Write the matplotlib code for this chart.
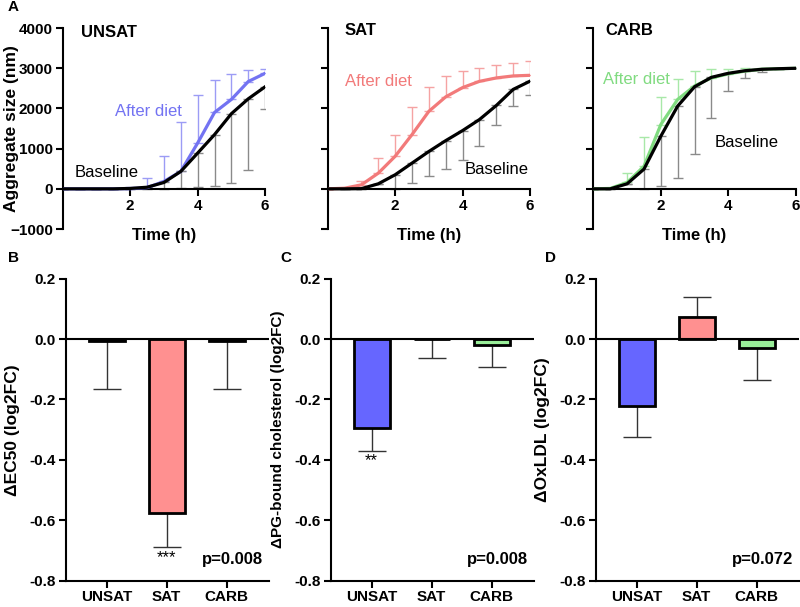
from matplotlib import pyplot as plt
import numpy as np

plt.rcParams['font.family'] = ['Liberation Sans', 'DejaVu Sans']

# time points (h)
t = [0, 0.5, 1, 1.5, 2, 2.5, 3, 3.5, 4, 4.5, 5, 5.5, 6]

# aggregate size (nm), after diet / baseline, with one-sided SD
unsat_after = [0, 0, 0, 0, 5, 30, 183, 433, 1140, 1900, 2225, 2670, 2875]
unsat_after_err = [0, 0, 0, 0, 30, 237, 642, 1227, 1200, 810, 635, 280, 100]
unsat_base = [0, 0, 0, 0, 10, 40, 158, 433, 890, 1350, 1870, 2240, 2540]
unsat_base_err = [0, 0, 0, 0, 10, 40, 158, 413, 850, 1270, 1730, 1780, 565]

sat_after = [0, 15, 100, 390, 810, 1350, 1930, 2290, 2520, 2675, 2760, 2810, 2825]
sat_after_err = [0, 0, 100, 380, 520, 690, 600, 520, 420, 335, 320, 330, 345]
sat_base = [0, 0, 5, 125, 350, 640, 930, 1200, 1450, 1725, 2075, 2475, 2680]
sat_base_err = [0, 0, 0, 0, 350, 490, 620, 710, 725, 650, 485, 405, 340]

carb_after = [0, 10, 160, 560, 1600, 2225, 2560, 2760, 2860, 2930, 2975, 2990, 3000]
carb_after_err = [0, 0, 230, 730, 680, 515, 370, 215, 130, 80, 30, 10, 5]
carb_base = [0, 0, 125, 490, 1310, 2060, 2540, 2775, 2875, 2940, 2975, 2990, 3000]
carb_base_err = [0, 0, 0, 490, 1235, 1793, 1665, 1000, 450, 190, 65, 20, 5]

# bar panels (log2FC), one-sided SD
groups = ['UNSAT', 'SAT', 'CARB']
ec50 = [-0.005, -0.575, -0.005]
ec50_err = [0.16, 0.115, 0.16]
pg_chol = [-0.296, 0.0, -0.018]
pg_chol_err = [0.074, 0.064, 0.075]
oxldl = [-0.22, 0.074, -0.029]
oxldl_err = [0.105, 0.066, 0.105]

line_cols = ['#7373F2', '#F27A7A', '#80DB80']
err_cols = ['#9C9CF5', '#F5A3A3', '#A8E8A8']
bar_cols = ['#6666FF', '#FF9090', '#99EE99']

fig = plt.figure(figsize=(8, 6.07), dpi=100)

top = [
    ('UNSAT', unsat_after, unsat_after_err, unsat_base, unsat_base_err,
     0.0784, (0.55, 3900), (1.55, 1930), (0.35, 410)),
    ('SAT', sat_after, sat_after_err, sat_base, sat_base_err,
     0.4096, (0.5, 3950), (0.5, 2660), (4.05, 475)),
    ('CARB', carb_after, carb_after_err, carb_base, carb_base_err,
     0.7417, (0.35, 3950), (0.28, 2725), (3.6, 1160)),
]

for i, (name, ya, ea, yb, eb, left, tpos, apos, bpos) in enumerate(top):
    ax = fig.add_axes([left, 0.6227, 0.253, 0.331])
    ax.errorbar(t, ya, yerr=[np.zeros(len(ea)), ea], fmt='none', ecolor=err_cols[i],
                elinewidth=1, capsize=3.5, capthick=1, zorder=1)
    ax.errorbar(t, yb, yerr=[eb, np.zeros(len(eb))], fmt='none', ecolor='#8a8a8a',
                elinewidth=1, capsize=3.5, capthick=1, zorder=1)
    ax.plot(t, ya, color=line_cols[i], lw=2.3, zorder=3)
    ax.plot(t, yb, color='black', lw=2.3, zorder=4)
    ax.set_xlim(0, 6)
    ax.set_ylim(-1000, 4000)
    ax.spines['top'].set_visible(False)
    ax.spines['right'].set_visible(False)
    ax.spines['bottom'].set_position(('data', 0))
    ax.spines['left'].set_linewidth(1.5)
    ax.spines['bottom'].set_linewidth(1.5)
    ax.set_xticks([2, 4, 6])
    ax.set_yticks([-1000, 0, 1000, 2000, 3000, 4000])
    ax.tick_params(width=1.5, length=5, labelsize=11, pad=2)
    for lb in ax.get_xticklabels() + ax.get_yticklabels():
        lb.set_fontweight('bold')
    if i > 0:
        ax.set_yticklabels([])
    else:
        ax.set_ylabel('Aggregate size (nm)', fontsize=12.5, fontweight='bold')
        ax.yaxis.set_label_coords(-0.218, 0.5)
    ax.text(0.5, -0.03, 'Time (h)', transform=ax.transAxes, ha='center', va='center',
            fontsize=12, fontweight='bold')
    ax.text(tpos[0], tpos[1], name, fontsize=12, fontweight='bold', ha='left', va='center')
    ax.text(apos[0], apos[1], 'After diet', fontsize=12, color=line_cols[i],
            ha='left', va='center')
    ax.text(bpos[0], bpos[1], 'Baseline', fontsize=12, color='black',
            ha='left', va='center')

bottom = [
    (ec50, ec50_err, 'ΔEC50 (log2FC)', 12.5, 0.0821, 'p=0.008', {1: '***'}),
    (pg_chol, pg_chol_err, 'ΔPG-bound cholesterol (log2FC)', 11, 0.4134, 'p=0.008', {0: '**'}),
    (oxldl, oxldl_err, 'ΔOxLDL (log2FC)', 12.5, 0.7446, 'p=0.072', {}),
]

x = np.arange(1, 4)
for vals, errs, ylab, yfs, left, ptxt, stars in bottom:
    ax = fig.add_axes([left, 0.0433, 0.254, 0.4976])
    lo = [e if v <= 0 else 0 for v, e in zip(vals, errs)]
    hi = [e if v > 0 else 0 for v, e in zip(vals, errs)]
    ax.bar(x, vals, width=0.6, color=bar_cols, edgecolor='black', linewidth=2, zorder=2)
    ax.errorbar(x, vals, yerr=[lo, hi], fmt='none', ecolor='#333333', elinewidth=1,
                capsize=10, capthick=1, zorder=1)
    ax.axhline(0, color='black', lw=1.5, zorder=3)
    for k, s in stars.items():
        ax.text(x[k], vals[k] - errs[k] - 0.008, s, ha='center', va='top', fontsize=12)
    ax.text(3.6, -0.73, ptxt, ha='right', va='center', fontsize=12, fontweight='bold')
    ax.set_xlim(0.32, 3.7)
    ax.set_ylim(-0.8, 0.2)
    ax.set_xticks(x)
    ax.set_xticklabels(groups)
    ax.set_yticks([-0.8, -0.6, -0.4, -0.2, 0.0, 0.2])
    ax.set_yticklabels(['-0.8', '-0.6', '-0.4', '-0.2', '0.0', '0.2'])
    ax.spines['top'].set_visible(False)
    ax.spines['right'].set_visible(False)
    ax.spines['left'].set_linewidth(1.5)
    ax.spines['bottom'].set_linewidth(1.5)
    ax.tick_params(width=1.5, length=5, labelsize=11, pad=2)
    for lb in ax.get_xticklabels() + ax.get_yticklabels():
        lb.set_fontweight('bold')
    ax.set_ylabel(ylab, fontsize=yfs, fontweight='bold')
    ax.yaxis.set_label_coords(-0.225, 0.5)

fig.text(0.01, 0.988, 'A', fontsize=11, fontweight='bold', va='center')
fig.text(0.01, 0.575, 'B', fontsize=11, fontweight='bold', va='center')
fig.text(0.35, 0.575, 'C', fontsize=11, fontweight='bold', va='center')
fig.text(0.681, 0.575, 'D', fontsize=11, fontweight='bold', va='center')

fig.savefig('out.png', dpi=100)
